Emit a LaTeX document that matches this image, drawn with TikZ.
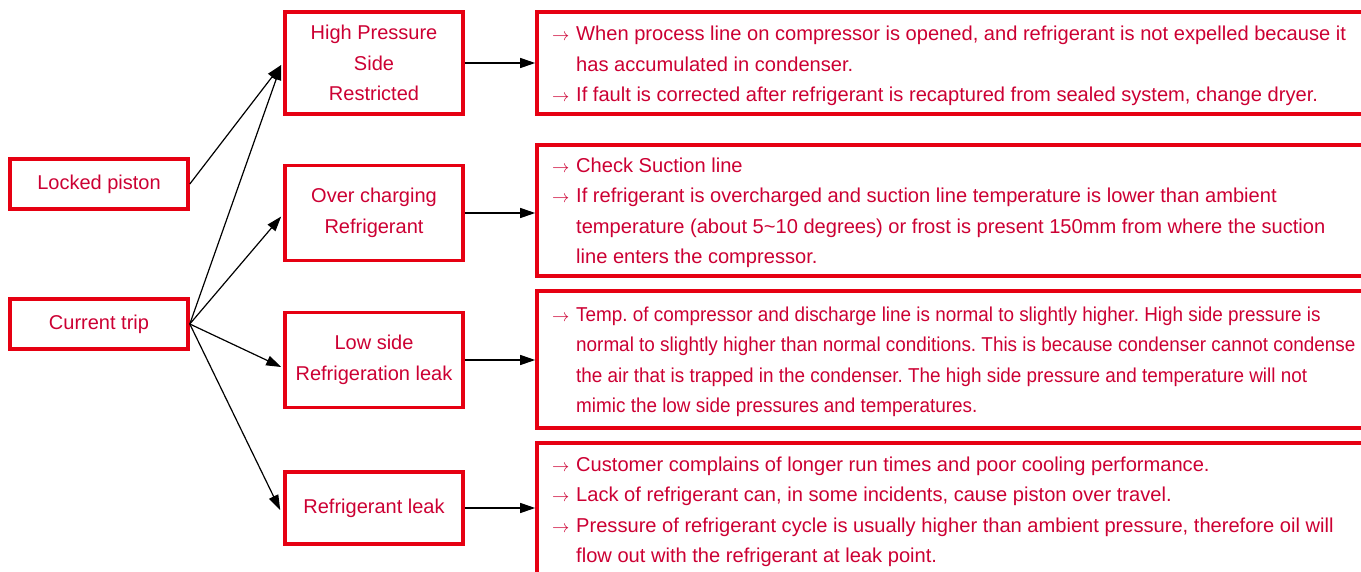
\documentclass[tikz,border=0pt]{standalone}
\usepackage{fontspec}
\setmainfont{Liberation Sans}
\newfontfamily\narrowfont{Liberation Sans}[FakeStretch=0.94]
\usetikzlibrary{arrows.meta}
\definecolor{boxred}{RGB}{230,0,18}
\definecolor{txtred}{RGB}{204,0,51}
\frenchspacing
\tikzset{
  lbox/.style={draw=boxred, line width=3.6pt, text=txtred, minimum width=178pt, inner sep=0pt, align=center,
    font=\fontsize{20}{30.5}\selectfont},
  rbox/.style={draw=boxred, line width=3.6pt, minimum width=843pt, inner sep=0pt},
  rtext/.style={anchor=base west, inner sep=0pt, text=txtred, font=\fontsize{20.1}{30.6}\selectfont\frenchspacing},
  conn/.style={line width=1.2pt, -{Triangle[length=15pt,width=10pt]}},
}
\newcommand{\ar}{\makebox[24pt][l]{\fontsize{19}{20}\selectfont$\rightarrow$}}
\newcommand{\noar}{\hspace*{24pt}}
\begin{document}
\begin{tikzpicture}[x=1pt,y=-1pt]
\useasboundingbox (0,0) rectangle (1361,571);
\clip (0,0) rectangle (1361,571);
% left boxes
\node[lbox, minimum height=50pt] (lp) at (99,184) {Locked piston};
\node[lbox, minimum height=50pt] (ct) at (99,324) {Current trip};
\node[lbox, minimum height=102pt] (hp) at (374,63) {High Pressure\\Side\\Restricted};
\node[lbox, minimum height=95pt] (oc) at (374,213) {Over charging\\Refrigerant};
\node[lbox, minimum height=95pt] (ls) at (374,360) {Low side\\Refrigeration leak};
\node[lbox, minimum height=72pt] (rl) at (374,508) {Refrigerant leak};
% right boxes
\node[rbox, minimum height=102pt] (r1) at (958.5,63) {};
\node[rbox, minimum height=131pt] (r2) at (958.5,210.5) {};
\node[rbox, minimum height=137pt] (r3) at (958.5,359.5) {};
\node[rbox, minimum height=157pt] (r4) at (958.5,521.5) {};
\node[rtext] (t1) at (552,40.5) {\begin{tabular}[t]{@{}l@{}}
\ar When process line on compressor is opened, and refrigerant is not expelled because it\\
\noar has accumulated in condenser.\\
\ar If fault is corrected after refrigerant is recaptured from sealed system, change dryer.
\end{tabular}};
\node[rtext] (t2) at (552,172) {\begin{tabular}[t]{@{}l@{}}
\ar Check Suction line\\
\ar If refrigerant is overcharged and suction line temperature is lower than ambient\\
\noar temperature (about 5\textasciitilde10 degrees) or frost is present 150mm from where the suction\\
\noar line enters the compressor.
\end{tabular}};
\node[rtext, font=\fontsize{20.1}{30.6}\narrowfont\frenchspacing] (t3) at (552,321) {\begin{tabular}[t]{@{}l@{}}
\ar Temp. of compressor and discharge line is normal to slightly higher. High side pressure is\\
\noar normal to slightly higher than normal conditions. This is because condenser cannot condense\\
\noar the air that is trapped in the condenser. The high side pressure and temperature will not\\
\noar mimic the low side pressures and temperatures.
\end{tabular}};
\node[rtext] (t4) at (552,471) {\begin{tabular}[t]{@{}l@{}}
\ar Customer complains of longer run times and poor cooling performance.\\
\ar Lack of refrigerant can, in some incidents, cause piston over travel.\\
\ar Pressure of refrigerant cycle is usually higher than ambient pressure, therefore oil will\\
\noar flow out with the refrigerant at leak point.
\end{tabular}};
% connectors
\draw[conn] (lp.east) -- ([xshift=-2pt,yshift=-2pt]hp.west);
\draw[conn] (ct.east) -- ([xshift=-2pt,yshift=-2pt]hp.west);
\draw[conn] (ct.east) -- ([xshift=-2pt,yshift=-3.5pt]oc.west);
\draw[conn] (ct.east) -- ([xshift=-2pt,yshift=-7pt]ls.west);
\draw[conn] (ct.east) -- ([xshift=-3pt,yshift=-2pt]rl.west);
\draw[conn] (hp.east) -- (hp.east -| r1.west);
\draw[conn] (oc.east) -- (oc.east -| r2.west);
\draw[conn] (ls.east) -- (ls.east -| r3.west);
\draw[conn] (rl.east) -- (rl.east -| r4.west);
\end{tikzpicture}
\end{document}
